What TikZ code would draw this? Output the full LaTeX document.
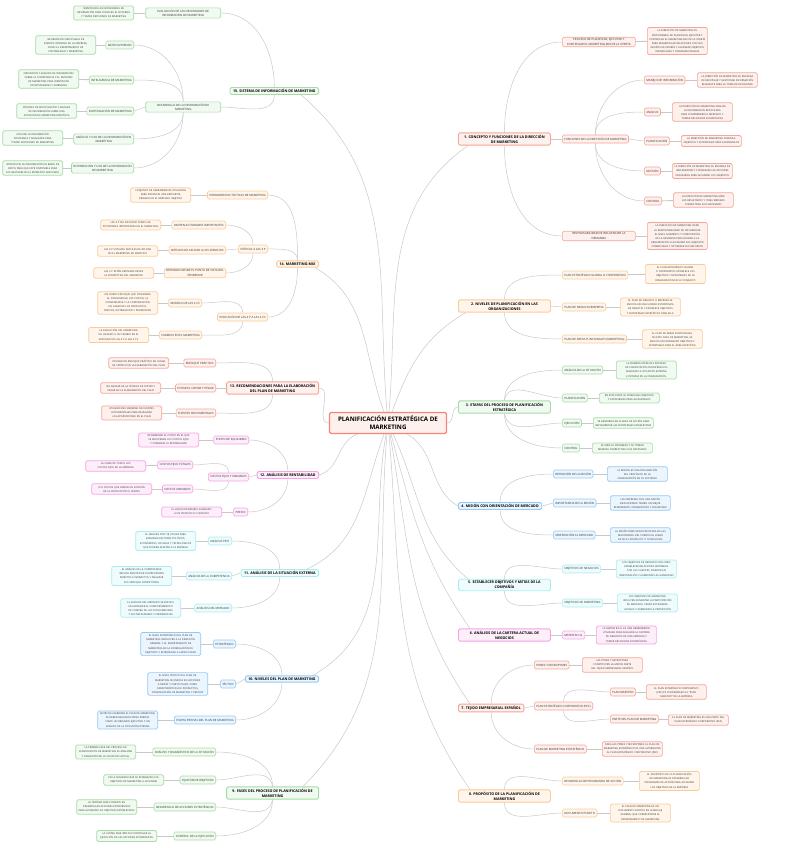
\documentclass[tikz,border=0pt]{standalone}
\usepackage{fontspec}
\setmainfont{Open Sans}
\usetikzlibrary{positioning,backgrounds}

\definecolor{ink}{HTML}{333333}
\definecolor{linkgray}{HTML}{C8C8C8}
\definecolor{rdline}{HTML}{F6A596}
\definecolor{rdfill}{HTML}{FEF0EC}
\definecolor{orline}{HTML}{FACB98}
\definecolor{orfill}{HTML}{FFF5EA}
\definecolor{grline}{HTML}{A5DCA5}
\definecolor{grfill}{HTML}{F0FAF0}
\definecolor{blline}{HTML}{93C9F5}
\definecolor{blfill}{HTML}{EBF5FE}
\definecolor{cyline}{HTML}{A9EDF2}
\definecolor{cyfill}{HTML}{EEFCFD}
\definecolor{pkline}{HTML}{F5A3E4}
\definecolor{pkfill}{HTML}{FDEEFA}

\hyphenpenalty=10000
\exhyphenpenalty=10000
\newcommand\leaffont{\fontsize{2.5}{4.1}\selectfont}
\newcommand\subfont{\fontsize{2.9}{4.2}\selectfont}
\newcommand\topicfont{\fontsize{3.6}{5.2}\selectfont\bfseries}
\newcommand\mainfont{\fontsize{6.2}{8}\selectfont\bfseries}

\tikzset{
  link/.style={draw=linkgray, line width=0.5pt},
  leaflink/.style={draw=linkgray, line width=0.9pt},
  topic/.style={draw, rounded corners=1.5pt, line width=0.9pt, font=\topicfont, align=center, inner xsep=3pt, inner ysep=1.8pt, text=black},
  wide/.style={minimum width=92pt},
  subnode/.style={draw, rounded corners=1.5pt, line width=0.6pt, font=\subfont, align=center, inner xsep=2pt, inner ysep=1.6pt, minimum height=8pt, text=ink},
  leaf/.style={draw, rounded corners=1.5pt, line width=0.7pt, font=\leaffont, align=center, text width=57pt, inner xsep=1.5pt, inner ysep=2pt, text=ink},
  rd/.style={draw=rdline, fill=rdfill},
  org/.style={draw=orline, fill=orfill},
  grn/.style={draw=grline, fill=grfill},
  blu/.style={draw=blline, fill=blfill},
  cya/.style={draw=cyline, fill=cyfill},
  pnk/.style={draw=pkline, fill=pkfill}
}

\begin{document}
\begin{tikzpicture}[x=1pt, y=1pt]
  \useasboundingbox (0,0) rectangle (790,-848);

  % centre
  \node[topic, rd, draw=rdline!80!red, line width=1.3pt, font=\mainfont, minimum width=117pt, minimum height=21pt] (c) at (388,-423) {PLANIFICACIÓN ESTRATÉGICA DE\\MARKETING};

  % 1
  \node[topic, rd, wide, anchor=west] (t1) at (458,-139) {1. CONCEPTO Y FUNCIONES DE LA DIRECCIÓN\\DE MARKETING};
  \node[subnode, rd, minimum width=73pt, anchor=west] (t1a) at (562,-42) {PROCESO DE PLANIFICAR, EJECUTAR Y\\CONTROLAR EL MARKETING-MIX DE LA OFERTA};
  \node[leaf, rd, anchor=west] (d1a) at (647,-41) {LA DIRECCIÓN DE MARKETING ES RESPONSABLE DE PLANIFICAR, EJECUTAR Y CONTROLAR EL MARKETING-MIX DE LA OFERTA PARA DESARROLLAR RELACIONES CON SUS GRUPOS DE INTERÉS Y ALCANZAR OBJETIVOS INDIVIDUALES Y ORGANIZACIONALES};
  \node[subnode, rd, anchor=west] (t1b) at (562,-139) {FUNCIONES DE LA DIRECCIÓN DE MARKETING};
  \node[subnode, rd, anchor=west] (t1b1) at (644,-80) {MANEJO DE INFORMACIÓN};
  \node[leaf, rd, anchor=west] (d1b1) at (697,-80) {LA DIRECCIÓN DE MARKETING SE ENCARGA DE RECOPILAR Y GESTIONAR INFORMACIÓN RELEVANTE PARA LA TOMA DE DECISIONES};
  \node[subnode, rd, anchor=west] (t1b2) at (644,-112) {ANÁLISIS};
  \node[leaf, rd, anchor=west] (d1b2) at (672,-112) {LA DIRECCIÓN DE MARKETING ANALIZA LA INFORMACIÓN RECOPILADA PARA COMPRENDER EL MERCADO Y TOMAR DECISIONES ESTRATÉGICAS};
  \node[subnode, rd, anchor=west] (t1b3) at (644,-141) {PLANIFICACIÓN};
  \node[leaf, rd, anchor=west] (d1b3) at (681,-141) {LA DIRECCIÓN DE MARKETING FORMULA OBJETIVOS Y ESTRATEGIAS PARA ALCANZARLOS};
  \node[subnode, rd, anchor=west] (t1b4) at (644,-171) {GESTIÓN};
  \node[leaf, rd, anchor=west] (d1b4) at (672,-171) {LA DIRECCIÓN DE MARKETING SE ENCARGA DE IMPLEMENTAR Y COORDINAR LAS ACCIONES NECESARIAS PARA ALCANZAR LOS OBJETIVOS};
  \node[subnode, rd, anchor=west] (t1b5) at (644,-201) {CONTROL};
  \node[leaf, rd, anchor=west] (d1b5) at (673,-200) {LA DIRECCIÓN DE MARKETING MIDE LOS RESULTADOS Y TOMA MEDIDAS CORRECTIVAS SI ES NECESARIO};
  \node[subnode, rd, minimum width=73pt, anchor=west] (t1c) at (562,-236) {RESPONSABILIDAD DE INFLUENCIAR LA\\DEMANDA};
  \node[leaf, rd, anchor=west] (d1c) at (647,-236) {LA DIRECCIÓN DE MARKETING TIENE LA RESPONSABILIDAD DE INFLUENCIAR EL NIVEL, MOMENTO Y COMPOSICIÓN DE LA DEMANDA PARA AYUDAR A LA ORGANIZACIÓN A ALCANZAR SUS OBJETIVOS COMERCIALES Y OPTIMIZAR SUS RECURSOS};

  % 2
  \node[topic, org, wide, anchor=west] (t2) at (458,-306) {2. NIVELES DE PLANIFICACIÓN EN LAS\\ORGANIZACIONES};
  \node[subnode, org, anchor=west] (t2a) at (562,-275) {PLAN ESTRATÉGICO GLOBAL O CORPORATIVO};
  \node[leaf, org, anchor=west] (d2a) at (645,-274) {EL PLAN ESTRATÉGICO GLOBAL O CORPORATIVO ESTABLECE LOS OBJETIVOS Y ESTRATEGIAS DE LA ORGANIZACIÓN EN SU CONJUNTO};
  \node[subnode, org, anchor=west] (t2b) at (562,-307) {PLAN DE NEGOCIO/EMPRESA};
  \node[leaf, org, anchor=west] (d2b) at (620,-307) {EL PLAN DE NEGOCIO O EMPRESA SE ENFOCA EN UNA UNIDAD ESTRATÉGICA DE NEGOCIO Y ESTABLECE OBJETIVOS Y ESTRATEGIAS ESPECÍFICOS PARA ELLA};
  \node[subnode, org, anchor=west] (t2c) at (562,-339) {PLAN DE ÁREAS FUNCIONALES (MARKETING)};
  \node[leaf, org, anchor=west] (d2c) at (642,-339) {EL PLAN DE ÁREAS FUNCIONALES, EN ESTE CASO DE MARKETING, SE ENFOCA EN ESTABLECER OBJETIVOS Y ESTRATEGIAS PARA EL ÁREA ESPECÍFICA};

  % 3
  \node[topic, grn, wide, anchor=west] (t3) at (458,-407) {3. ETAPAS DEL PROCESO DE PLANIFICACIÓN\\ESTRATÉGICA};
  \node[subnode, grn, anchor=west] (t3a) at (562,-370) {ANÁLISIS DE LA SITUACIÓN};
  \node[leaf, grn, anchor=west] (d3a) at (616,-370) {LA PRIMERA ETAPA DEL PROCESO DE PLANIFICACIÓN ESTRATÉGICA ES ANALIZAR LA SITUACIÓN EXTERNA E INTERNA DE LA ORGANIZACIÓN};
  \node[subnode, grn, anchor=west] (t3b) at (562,-398) {PLANIFICACIÓN};
  \node[leaf, grn, anchor=west] (d3b) at (599,-398) {EN ESTA ETAPA SE FORMULAN OBJETIVOS Y ESTRATEGIAS PARA ALCANZARLOS};
  \node[subnode, grn, anchor=west] (t3c) at (562,-423) {EJECUCIÓN};
  \node[leaf, grn, anchor=west] (d3c) at (593,-423) {SE DESARROLLAN PLANES DE ACCIÓN PARA IMPLEMENTAR LAS ESTRATEGIAS ESTABLECIDAS};
  \node[subnode, grn, anchor=west] (t3d) at (562,-448) {CONTROL};
  \node[leaf, grn, anchor=west] (d3d) at (592,-448) {SE MIDE EL PROGRESO Y SE TOMAN MEDIDAS CORRECTIVAS SI ES NECESARIO};

  % 4
  \node[topic, blu, anchor=west] (t4) at (458,-506) {4. MISIÓN CON ORIENTACIÓN DE MERCADO};
  \node[subnode, blu, anchor=west] (t4a) at (553,-474) {DEFINICIÓN DE LA MISIÓN};
  \node[leaf, blu, anchor=west] (d4a) at (607,-474) {LA MISIÓN ES UNA DECLARACIÓN DEL PROPÓSITO DE LA ORGANIZACIÓN EN SU ENTORNO};
  \node[subnode, blu, anchor=west] (t4b) at (553,-503) {IMPORTANCIA DE LA MISIÓN};
  \node[leaf, blu, anchor=west] (d4b) at (610,-503) {LAS EMPRESAS CON UNA MISIÓN BIEN DEFINIDA TIENEN UN MEJOR RENDIMIENTO ORGANIZATIVO Y FINANCIERO};
  \node[subnode, blu, anchor=west] (t4c) at (553,-535) {ORIENTACIÓN AL MERCADO};
  \node[leaf, blu, anchor=west] (d4c) at (610,-535) {LA MISIÓN DEBE ESTAR ENFOCADA EN LAS NECESIDADES DEL CLIENTE EN LUGAR DE EN EL PRODUCTO O TECNOLOGÍA};

  % 5
  \node[topic, cya, wide, anchor=west] (t5) at (458,-585) {5. ESTABLECER OBJETIVOS Y METAS DE LA\\COMPAÑÍA};
  \node[subnode, cya, anchor=west] (t5a) at (562,-569) {OBJETIVOS DE NEGOCIOS};
  \node[leaf, cya, anchor=west] (d5a) at (616,-569) {LOS OBJETIVOS DE NEGOCIOS INCLUYEN ESTABLECER RELACIONES RENTABLES CON LOS CLIENTES, INVERTIR EN INVESTIGACIÓN Y AUMENTAR LAS GANANCIAS};
  \node[subnode, cya, anchor=west] (t5b) at (562,-603) {OBJETIVOS DE MARKETING};
  \node[leaf, cya, anchor=west] (d5b) at (617,-603) {LOS OBJETIVOS DE MARKETING INCLUYEN AUMENTAR LA PARTICIPACIÓN DE MERCADO, CREAR SOCIEDADES LOCALES Y AUMENTAR LA PROMOCIÓN};

  % 6
  \node[topic, pnk, wide, anchor=west] (t6) at (458,-635) {6. ANÁLISIS DE LA CARTERA ACTUAL DE\\NEGOCIOS};
  \node[subnode, pnk, anchor=west] (t6a) at (562,-635) {MATRIZ B.C.G.};
  \node[leaf, pnk, anchor=west] (d6a) at (596,-635) {LA MATRIZ B.C.G. ES UNA HERRAMIENTA UTILIZADA PARA ANALIZAR LA CARTERA DE NEGOCIOS DE UNA EMPRESA Y TOMAR DECISIONES ESTRATÉGICAS};

  % 7
  \node[topic, rd, anchor=west] (t7) at (458,-708) {7. TEJIDO EMPRESARIAL ESPAÑOL};
  \node[subnode, rd, anchor=west] (t7a) at (534,-665) {PYMES Y MICROPYMES};
  \node[leaf, rd, anchor=west] (d7a) at (582,-665) {LAS PYMES Y MICROPYMES CONSTITUYEN LA MAYOR PARTE DEL TEJIDO EMPRESARIAL ESPAÑOL};
  \node[subnode, rd, anchor=west] (t7b) at (534,-706) {PLAN ESTRATÉGICO CORPORATIVO (PEC)};
  \node[subnode, rd, anchor=west] (t7b1) at (610,-692) {PLAN MAESTRO};
  \node[leaf, rd, anchor=west] (d7b1) at (646,-692) {EL PLAN ESTRATÉGICO CORPORATIVO (PEC) ES CONSIDERADO EL ``PLAN MAESTRO'' DE LA EMPRESA};
  \node[subnode, rd, anchor=west] (t7b2) at (610,-719) {PARTE DEL PLAN DE MARKETING};
  \node[leaf, rd, anchor=west] (d7b2) at (668,-720) {EL PLAN DE MARKETING ES UNA PARTE DEL PLAN ESTRATÉGICO CORPORATIVO (PEC)};
  \node[subnode, rd, anchor=west] (t7c) at (534,-749) {PLAN DE MARKETING ESTRATÉGICO};
  \node[leaf, rd, anchor=west] (d7c) at (602,-749) {PARA LAS PYMES Y MICROPYMES, EL PLAN DE MARKETING ESTRATÉGICO ES UNA ALTERNATIVA AL PLAN ESTRATÉGICO CORPORATIVO (PEC)};

  % 8
  \node[topic, org, wide, anchor=west] (t8) at (458,-796) {8. PROPÓSITO DE LA PLANIFICACIÓN DE\\MARKETING};
  \node[subnode, org, anchor=west] (t8a) at (562,-781) {DESARROLLO DE PROGRAMAS DE ACCIÓN};
  \node[leaf, org, anchor=west] (d8a) at (639,-781) {EL PROPÓSITO DE LA PLANIFICACIÓN DE MARKETING ES DESARROLLAR PROGRAMAS DE ACCIÓN PARA ALCANZAR LOS OBJETIVOS DE LA EMPRESA};
  \node[subnode, org, anchor=west] (t8b) at (562,-813) {DOCUMENTO ESCRITO};
  \node[leaf, org, anchor=west] (d8b) at (610,-813) {EL PLAN DE MARKETING ES UN DOCUMENTO ESCRITO EN LENGUAJE GENERAL QUE CORRESPONDE AL DEPARTAMENTO DE MARKETING};

  % 9
  \node[topic, grn, wide, anchor=east] (t9) at (319,-793) {9. FASES DEL PROCESO DE PLANIFICACIÓN DE\\MARKETING};
  \node[subnode, grn, anchor=east] (t9a) at (216,-752) {ANÁLISIS Y DIAGNÓSTICO DE LA SITUACIÓN};
  \node[leaf, grn, anchor=east] (d9a) at (136,-752) {LA PRIMERA FASE DEL PROCESO DE PLANIFICACIÓN DE MARKETING ES ANALIZAR Y DIAGNOSTICAR LA SITUACIÓN ACTUAL};
  \node[subnode, grn, anchor=east] (t9b) at (216,-780) {FIJACIÓN DE OBJETIVOS};
  \node[leaf, grn, anchor=east] (d9b) at (164,-780) {EN LA SEGUNDA FASE SE ESTABLECEN LOS OBJETIVOS DE MARKETING A ALCANZAR};
  \node[subnode, grn, anchor=east] (t9c) at (216,-807) {DESARROLLO DE ACCIONES ESTRATÉGICAS};
  \node[leaf, grn, anchor=east] (d9c) at (137,-807) {LA TERCERA FASE CONSISTE EN DESARROLLAR ACCIONES ESTRATÉGICAS PARA ALCANZAR LOS OBJETIVOS ESTABLECIDOS};
  \node[subnode, grn, anchor=east] (t9d) at (216,-836) {CONTROL DE LA EJECUCIÓN};
  \node[leaf, grn, anchor=east] (d9d) at (157,-836) {LA ÚLTIMA FASE IMPLICA CONTROLAR LA EJECUCIÓN DE LAS ACCIONES ESTRATÉGICAS};

  % 10
  \node[topic, blu, anchor=east] (t10) at (319,-679) {10. NIVELES DEL PLAN DE MARKETING};
  \node[subnode, blu, anchor=east] (t10a) at (236,-644) {ESTRATÉGICO};
  \node[leaf, blu, anchor=east] (d10a) at (201,-644) {EL NIVEL ESTRATÉGICO DEL PLAN DE MARKETING INVOLUCRA A LA DIRECCIÓN GENERAL Y AL DEPARTAMENTO DE MARKETING EN LA FORMULACIÓN DE OBJETIVOS Y ESTRATEGIAS A LARGO PLAZO};
  \node[subnode, blu, anchor=east] (t10b) at (236,-684) {TÁCTICO};
  \node[leaf, blu, anchor=east] (d10b) at (208,-684) {EL NIVEL TÁCTICO DEL PLAN DE MARKETING SE ENFOCA EN ACCIONES A MEDIO Y CORTO PLAZO, COMO CARACTERÍSTICAS DE PRODUCTOS, COMUNICACIÓN DE MARKETING Y PRECIOS};
  \node[subnode, blu, anchor=east] (t10c) at (236,-720) {ETAPAS PREVIAS DEL PLAN DE MARKETING};
  \node[leaf, blu, anchor=east] (d10c) at (158,-720) {ANTES DE ELABORAR EL PLAN DE MARKETING, SE DEBEN REALIZAR ETAPAS PREVIAS COMO UN RESUMEN EJECUTIVO Y UN ANÁLISIS DE LA SITUACIÓN EXTERNA};

  % 11
  \node[topic, cya, anchor=east] (t11) at (319,-573) {11. ANÁLISIS DE LA SITUACIÓN EXTERNA};
  \node[subnode, cya, anchor=east] (t11a) at (232,-541) {ANÁLISIS PEST};
  \node[leaf, cya, anchor=east] (d11a) at (196,-541) {EL ANÁLISIS PEST SE UTILIZA PARA EXAMINAR FACTORES POLÍTICOS, ECONÓMICOS, SOCIALES Y TECNOLÓGICOS QUE PUEDEN AFECTAR A LA EMPRESA};
  \node[subnode, cya, anchor=east] (t11b) at (232,-576) {ANÁLISIS DE LA COMPETENCIA};
  \node[leaf, cya, anchor=east] (d11b) at (172,-576) {EL ANÁLISIS DE LA COMPETENCIA IMPLICA IDENTIFICAR COMPETIDORES DIRECTOS E INDIRECTOS Y ANALIZAR SUS VENTAJAS COMPETITIVAS};
  \node[subnode, cya, anchor=east] (t11c) at (232,-608) {ANÁLISIS DEL MERCADO};
  \node[leaf, cya, anchor=east] (d11c) at (181,-608) {EL ANÁLISIS DEL MERCADO SE ENFOCA EN ENTENDER EL COMPORTAMIENTO DE COMPRA DE LOS CONSUMIDORES Y SUS NECESIDADES Y PREFERENCIAS};

  % 12
  \node[topic, pnk, anchor=east] (t12) at (319,-475) {12. ANÁLISIS DE RENTABILIDAD};
  \node[subnode, pnk, anchor=east] (t12a) at (249,-440) {PUNTO DE EQUILIBRIO};
  \node[leaf, pnk, anchor=east] (d12a) at (199,-440) {DETERMINAR EL PUNTO EN EL QUE SE RECUPERAN LOS COSTOS FIJOS Y COMIENZA LA RENTABILIDAD};
  \node[subnode, pnk, anchor=east] (t12b) at (249,-477) {COSTOS FIJOS Y VARIABLES};
  \node[subnode, pnk, anchor=east] (t12b1) at (193,-465) {COSTOS FIJOS TOTALES};
  \node[leaf, pnk, anchor=east] (d12b1) at (146,-466) {LA SUMA DE TODOS LOS COSTOS FIJOS DE LA EMPRESA};
  \node[subnode, pnk, anchor=east] (t12b2) at (193,-489) {COSTOS VARIABLES};
  \node[leaf, pnk, anchor=east] (d12b2) at (152,-489) {LOS COSTOS QUE VARÍAN EN FUNCIÓN DE LA PRODUCCIÓN O VENTAS};
  \node[subnode, pnk, anchor=east] (t12c) at (248,-512) {PRECIO};
  \node[leaf, pnk, anchor=east] (d12c) at (222,-512) {EL VALOR MONETARIO ASIGNADO A UN PRODUCTO O SERVICIO};

  % 13
  \node[topic, rd, wide, anchor=east] (t13) at (319,-388) {13. RECOMENDACIONES PARA LA ELABORACIÓN\\DEL PLAN DE MARKETING};
  \node[subnode, rd, anchor=east] (t13a) at (216,-363) {ENFOQUE PRÁCTICO};
  \node[leaf, rd, anchor=east] (d13a) at (169,-363) {UTILIZAR UN ENFOQUE PRÁCTICO EN LUGAR DE TEÓRICO EN LA ELABORACIÓN DEL PLAN};
  \node[subnode, rd, anchor=east] (t13b) at (216,-388) {EVITAR EL COPIAR Y PEGAR};
  \node[leaf, rd, anchor=east] (d13b) at (161,-388) {NO ABUSAR DE LA TÉCNICA DE COPIAR Y PEGAR EN LA ELABORACIÓN DEL PLAN};
  \node[subnode, rd, anchor=east] (t13c) at (216,-413) {FUENTES DOCUMENTALES};
  \node[leaf, rd, anchor=east] (d13c) at (162,-413) {UTILIZAR UNA VARIEDAD DE FUENTES DOCUMENTALES PARA RESPALDAR LAS APORTACIONES EN EL PLAN};

  % 14
  \node[topic, org, anchor=east] (t14) at (319,-264) {14. MARKETING-MIX};
  \node[subnode, org, anchor=east] (t14a) at (268,-195) {HERRAMIENTAS TÁCTICAS DE MARKETING};
  \node[leaf, org, anchor=east] (d14a) at (191,-195) {CONJUNTO DE HERRAMIENTAS UTILIZADAS PARA PRODUCIR UNA RESPUESTA DESEADA EN EL MERCADO OBJETIVO};
  \node[subnode, org, anchor=east] (t14b) at (268,-249) {CRÍTICAS A LAS 4 P};
  \node[subnode, org, anchor=east] (t14b1) at (226,-225) {OMITEN ACTIVIDADES IMPORTANTES};
  \node[leaf, org, anchor=east] (d14b1) at (161,-225) {LAS 4 P NO INCLUYEN TODAS LAS ACTIVIDADES IMPORTANTES EN EL MARKETING};
  \node[subnode, org, anchor=east] (t14b2) at (226,-250) {DIFÍCILES DE APLICAR A LOS SERVICIOS};
  \node[leaf, org, anchor=east] (d14b2) at (158,-251) {LAS 4 P SON MÁS DIFÍCILES DE APLICAR EN EL MARKETING DE SERVICIOS};
  \node[subnode, org, minimum width=61pt, anchor=east] (t14b3) at (226,-273) {DEFINIDAS DESDE EL PUNTO DE VISTA DEL\\VENDEDOR};
  \node[leaf, org, anchor=east] (d14b3) at (154,-273) {LAS 4 P ESTÁN DEFINIDAS DESDE LA PERSPECTIVA DEL VENDEDOR};
  \node[subnode, org, anchor=east] (t14c) at (268,-317) {EVOLUCIÓN DE LAS 4 P A LAS 4 CS};
  \node[subnode, org, anchor=east] (t14c1) at (202,-303) {MODELO DE LAS 4 CS};
  \node[leaf, org, anchor=east] (d14c1) at (158,-303) {UN NUEVO ENFOQUE QUE CONSIDERA AL CONSUMIDOR, LOS COSTOS, LA CONVENIENCIA Y LA COMUNICACIÓN EN LUGAR DE LOS PRODUCTOS, PRECIOS, DISTRIBUCIÓN Y PROMOCIÓN};
  \node[subnode, org, anchor=east] (t14c2) at (202,-335) {CAMBIOS EN EL MARKETING};
  \node[leaf, org, anchor=east] (d14c2) at (149,-335) {LA EVOLUCIÓN DEL MARKETING HA LLEVADO A UN CAMBIO EN EL ENFOQUE DE LAS 4 P A LAS 4 CS};

  % 15
  \node[topic, grn, anchor=east] (t15) at (319,-91) {15. SISTEMA DE INFORMACIÓN DE MARKETING};
  \node[subnode, grn, minimum width=75pt, anchor=east] (t15a) at (221,-13) {EVALUACIÓN DE LAS NECESIDADES DE\\INFORMACIÓN DE MARKETING};
  \node[leaf, grn, anchor=east] (d15a) at (134,-13) {IDENTIFICAR LAS NECESIDADES DE INFORMACIÓN PARA CONOCER EL ENTORNO Y TOMAR DECISIONES DE MARKETING};
  \node[subnode, grn, minimum width=75pt, anchor=east] (t15b) at (221,-107) {DESARROLLO DE LA INFORMACIÓN DE\\MARKETING};
  \node[subnode, grn, anchor=east] (t15b1) at (134,-45) {DATOS INTERNOS};
  \node[leaf, grn, anchor=east] (d15b1) at (96,-45) {INFORMACIÓN RECOPILADA DE FUENTES INTERNAS DE LA EMPRESA, COMO EL DEPARTAMENTO DE CONTABILIDAD Y MARKETING};
  \node[subnode, grn, anchor=east] (t15b2) at (134,-80) {INTELIGENCIA DE MARKETING};
  \node[leaf, grn, anchor=east] (d15b2) at (79,-79) {OBTENCIÓN Y ANÁLISIS DE INFORMACIÓN SOBRE LA COMPETENCIA Y EL ENTORNO DE MARKETING PARA IDENTIFICAR OPORTUNIDADES Y AMENAZAS};
  \node[subnode, grn, anchor=east] (t15b3) at (134,-111) {INVESTIGACIÓN DE MARKETING};
  \node[leaf, grn, anchor=east] (d15b3) at (77,-111) {PROCESO DE RECOPILACIÓN Y ANÁLISIS DE INFORMACIÓN SOBRE UNA SITUACIÓN DE MARKETING ESPECÍFICA};
  \node[subnode, grn, minimum width=60pt, anchor=east] (t15b4) at (134,-139) {ANÁLISIS Y USO DE LA INFORMACIÓN EN\\MARKETING};
  \node[leaf, grn, anchor=east] (d15b4) at (63,-138) {UTILIZAR LA INFORMACIÓN PROCESADA Y ANALIZADA PARA TOMAR DECISIONES DE MARKETING};
  \node[subnode, grn, minimum width=60pt, anchor=east] (t15b5) at (134,-168) {DISTRIBUCIÓN Y USO DE LA INFORMACIÓN\\DE MARKETING};
  \node[leaf, grn, anchor=east] (d15b5) at (63,-168) {INTRODUCIR LA INFORMACIÓN EN BASES DE DATOS PARA QUE ESTÉ DISPONIBLE PARA LOS GESTORES EN EL MOMENTO ADECUADO};

  \begin{scope}[on background layer]
    % branches from the centre
    \draw[link] (c) to[out=85,in=-145] ([xshift=10pt]t1.south west);
    \draw[link] (c) to[out=70,in=-150] ([xshift=8pt]t2.south west);
    \draw[link] (c) to[out=0,in=180] (t3.west);
    \draw[link] (c) to[out=-30,in=150] (t4.west);
    \draw[link] (c) to[out=-65,in=140] ([xshift=10pt]t5.north west);
    \draw[link] (c) to[out=-75,in=125] ([xshift=12pt]t6.north west);
    \draw[link] (c) to[out=-80,in=125] ([xshift=12pt]t7.north west);
    \draw[link] (c) to[out=-85,in=125] ([xshift=12pt]t8.north west);
    \draw[link] (c) to[out=-95,in=45] ([xshift=-16pt]t9.north east);
    \draw[link] (c) to[out=-100,in=30] ([xshift=-6pt]t10.north east);
    \draw[link] (c) to[out=-110,in=25] ([xshift=-12pt]t11.north east);
    \draw[link] (c) to[out=200,in=15] (t12.east);
    \draw[link] (c) to[out=180,in=0] (t13.east);
    \draw[link] (c) to[out=110,in=-30] ([xshift=-4pt]t14.south east);
    \draw[link] (c) to[out=95,in=-40] ([xshift=-18pt]t15.south east);

    % right side
    \draw[link] (t1.north) to[out=90,in=180] (t1a.west);
    \draw[link] (t1.east) -- (t1b.west);
    \draw[link] (t1.south) to[out=-90,in=180] (t1c.west);
    \draw[link] (t1b.north) to[out=90,in=180] (t1b1.west);
    \draw[link] (t1b.north) to[out=90,in=180] (t1b2.west);
    \draw[link] (t1b.east) -- (t1b3.west);
    \draw[link] (t1b.south) to[out=-90,in=180] (t1b4.west);
    \draw[link] (t1b.south) to[out=-90,in=180] (t1b5.west);
    \draw[link] (t2.north) to[out=90,in=180] (t2a.west);
    \draw[link] (t2.east) -- (t2b.west);
    \draw[link] (t2.south) to[out=-90,in=180] (t2c.west);
    \draw[link] (t3.north) to[out=90,in=180] (t3a.west);
    \draw[link] (t3.north) to[out=80,in=180] (t3b.west);
    \draw[link] (t3.south) to[out=-80,in=180] (t3c.west);
    \draw[link] (t3.south) to[out=-90,in=180] (t3d.west);
    \draw[link] (t4.north) to[out=90,in=180] (t4a.west);
    \draw[link] (t4.east) -- (t4b.west);
    \draw[link] (t4.south) to[out=-90,in=180] (t4c.west);
    \draw[link] (t5.north) to[out=90,in=180] (t5a.west);
    \draw[link] (t5.south) to[out=-90,in=180] (t5b.west);
    \draw[link] (t6.east) -- (t6a.west);
    \draw[link] (t7.north) to[out=90,in=180] (t7a.west);
    \draw[link] (t7.east) -- (t7b.west);
    \draw[link] (t7.south) to[out=-90,in=180] (t7c.west);
    \draw[link] (t7b.north) to[out=90,in=180] (t7b1.west);
    \draw[link] (t7b.south) to[out=-90,in=180] (t7b2.west);
    \draw[link] (t8.north) to[out=90,in=180] (t8a.west);
    \draw[link] (t8.south) to[out=-90,in=180] (t8b.west);

    % left side
    \draw[link] (t9.north) to[out=90,in=0] (t9a.east);
    \draw[link] (t9.north) to[out=100,in=0] (t9b.east);
    \draw[link] (t9.south) to[out=-100,in=0] (t9c.east);
    \draw[link] (t9.south) to[out=-90,in=0] (t9d.east);
    \draw[link] (t10.north) to[out=90,in=0] (t10a.east);
    \draw[link] (t10.west) -- (t10b.east);
    \draw[link] (t10.south) to[out=-90,in=0] (t10c.east);
    \draw[link] (t11.north) to[out=90,in=0] (t11a.east);
    \draw[link] (t11.west) -- (t11b.east);
    \draw[link] (t11.south) to[out=-90,in=0] (t11c.east);
    \draw[link] (t12.north) to[out=90,in=0] (t12a.east);
    \draw[link] (t12.west) -- (t12b.east);
    \draw[link] (t12.south) to[out=-90,in=0] (t12c.east);
    \draw[link] (t12b.north) to[out=90,in=0] (t12b1.east);
    \draw[link] (t12b.south) to[out=-90,in=0] (t12b2.east);
    \draw[link] (t13.north) to[out=90,in=0] (t13a.east);
    \draw[link] (t13.west) -- (t13b.east);
    \draw[link] (t13.south) to[out=-90,in=0] (t13c.east);
    \draw[link] (t14.north) to[out=90,in=0] (t14a.east);
    \draw[link] (t14.north) to[out=90,in=0] (t14b.east);
    \draw[link] (t14.south) to[out=-90,in=0] (t14c.east);
    \draw[link] (t14b.north) to[out=90,in=0] (t14b1.east);
    \draw[link] (t14b.west) -- (t14b2.east);
    \draw[link] (t14b.south) to[out=-90,in=0] (t14b3.east);
    \draw[link] (t14c.north) to[out=90,in=0] (t14c1.east);
    \draw[link] (t14c.south) to[out=-90,in=0] (t14c2.east);
    \draw[link] (t15.north) to[out=90,in=0] (t15a.east);
    \draw[link] (t15.south) to[out=-90,in=0] (t15b.east);
    \draw[link] (t15b.north) to[out=90,in=0] (t15b1.east);
    \draw[link] (t15b.north) to[out=90,in=0] (t15b2.east);
    \draw[link] (t15b.west) -- (t15b3.east);
    \draw[link] (t15b.south) to[out=-90,in=0] (t15b4.east);
    \draw[link] (t15b.south) to[out=-90,in=0] (t15b5.east);

    % descriptions
    \foreach \n in {1a,1b1,1b2,1b3,1b4,1b5,1c,2a,2b,2c,3a,3b,3c,3d,4a,4b,4c,5a,5b,6a,7a,7b1,7b2,7c,8a,8b,
                    9a,9b,9c,9d,10a,10b,10c,11a,11b,11c,12a,12b1,12b2,12c,13a,13b,13c,14a,14b1,14b2,14b3,14c1,14c2,
                    15a,15b1,15b2,15b3,15b4,15b5}
      \draw[leaflink] (t\n) -- (d\n);
  \end{scope}
\end{tikzpicture}
\end{document}
